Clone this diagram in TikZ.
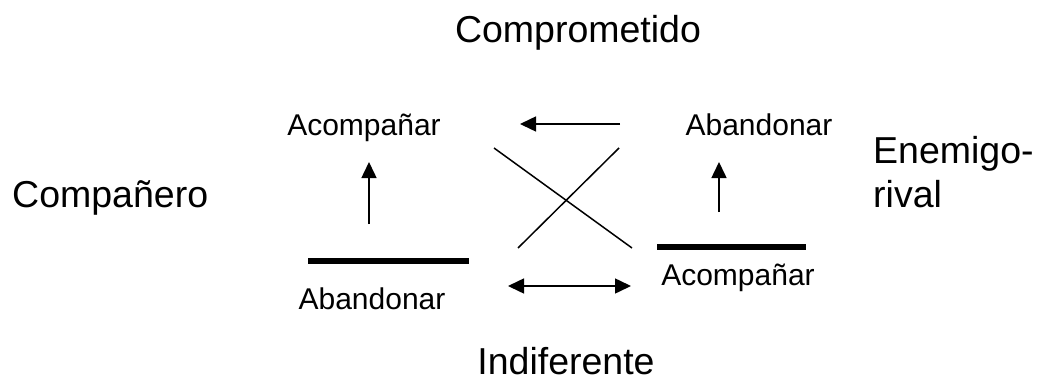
\documentclass[tikz,border=0pt]{standalone}
\usepackage{fontspec}
\setmainfont{Liberation Sans}
\usetikzlibrary{arrows.meta}
\begin{document}
\begin{tikzpicture}[x=1pt,y=-1pt,
  big/.style={font=\fontsize{37.5}{44}\selectfont,inner sep=0pt},
  small/.style={font=\fontsize{30}{36}\selectfont,inner sep=0pt},
  conn/.style={line width=1.5pt},
  arr/.style={conn,-{Triangle[length=16pt,width=15pt]}},
  darr/.style={conn,{Triangle[length=16pt,width=15pt]}-{Triangle[length=16pt,width=15pt]}},
  bar/.style={line width=6pt}]
\useasboundingbox (0,0) rectangle (1044,380);
% large labels
\node[big,anchor=base] (comp) at (578,42) {Comprometido};
\node[big,anchor=base west] (compa) at (12,207) {Compañero};
\node[big,anchor=base west,align=left] (enem) at (873,207) {Enemigo-\\rival};
\node[big,anchor=base] (indif) at (566,374) {Indiferente};
% small labels
\node[small,anchor=base] (acTL) at (364,135) {Acompañar};
\node[small,anchor=base] (abTR) at (759,135) {Abandonar};
\node[small,anchor=base] (abBL) at (372,309) {Abandonar};
\node[small,anchor=base] (acBR) at (738,285) {Acompañar};
% coordinates
\coordinate (barLa) at (308,261);
\coordinate (barLb) at (469,261);
\coordinate (barRa) at (657,247);
\coordinate (barRb) at (806,247);
\coordinate (upLa) at (369,224);
\coordinate (upLb) at (369,162);
\coordinate (upRa) at (719,212);
\coordinate (upRb) at (719,162);
\coordinate (lfa) at (620,124);
\coordinate (lfb) at (520,124);
\coordinate (x1a) at (494,148);
\coordinate (x1b) at (632,248);
\coordinate (x2a) at (619,148);
\coordinate (x2b) at (518,248);
\coordinate (dba) at (508,286);
\coordinate (dbb) at (631,286);
% drawing
\draw[bar] (barLa) -- (barLb);
\draw[bar] (barRa) -- (barRb);
\draw[arr] (upLa) -- (upLb);
\draw[arr] (upRa) -- (upRb);
\draw[arr] (lfa) -- (lfb);
\draw[conn] (x1a) -- (x1b);
\draw[conn] (x2a) -- (x2b);
\draw[darr] (dba) -- (dbb);
\end{tikzpicture}
\end{document}
